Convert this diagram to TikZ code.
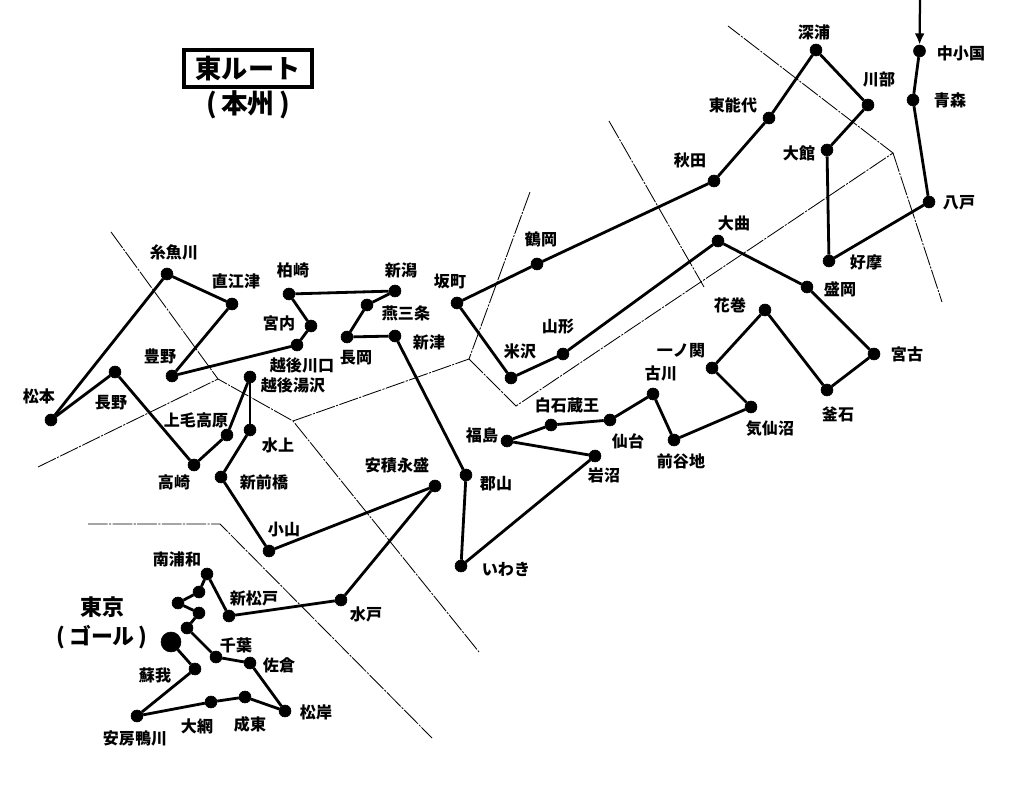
\documentclass[tikz,border=0pt]{standalone}
\usepackage{fontspec}
\setmainfont{Noto Sans CJK JP}
\usetikzlibrary{arrows.meta}
\tikzset{
  station/.style={draw,circle,fill=black,inner sep=0pt,minimum size=0.3cm},
  goal/.style={draw,circle,fill=black,inner sep=0pt,minimum size=0.5cm},
  place/.style={inner sep=0pt,font=\fontsize{11.4}{13}\selectfont\bfseries},
  bigplace/.style={inner sep=0pt,font=\fontsize{15.6}{18}\selectfont\bfseries},
  route/.style={line width=2pt},
  border/.style={line width=0.6pt,dash pattern=on 14pt off 1pt on 1.5pt off 1pt}
}
\begin{document}
\begin{tikzpicture}[x=0.025cm,y=-0.025cm]
\useasboundingbox (0,0) rectangle (1013,786);
% stations
\node[station] (chuo) at (919.5,51) {};
\node[station] (aomori) at (913,100) {};
\node[station] (hachinohe) at (929,202) {};
\node[station] (koma) at (829,261) {};
\node[station] (odate) at (827,150) {};
\node[station] (kawabe) at (868,105) {};
\node[station] (fukaura) at (816,50) {};
\node[station] (noshiro) at (769,118) {};
\node[station] (akita) at (714,181) {};
\node[station] (tsuruoka) at (537,264) {};
\node[station] (sakamachi) at (457,303) {};
\node[station] (yonezawa) at (511,378) {};
\node[station] (yamagata) at (563,354) {};
\node[station] (omagari) at (718,241) {};
\node[station] (morioka) at (807,287) {};
\node[station] (miyako) at (874,354) {};
\node[station] (kamaishi) at (827,390) {};
\node[station] (hanamaki) at (765,310) {};
\node[station] (ichinoseki) at (712,368) {};
\node[station] (kesennuma) at (751,407) {};
\node[station] (maeyachi) at (674,440) {};
\node[station] (furukawa) at (653,394) {};
\node[station] (sendai) at (610,420) {};
\node[station] (shiroishi) at (551,425) {};
\node[station] (fukushima) at (507,441) {};
\node[station] (iwanuma) at (595,456) {};
\node[station] (iwaki) at (461,566) {};
\node[station] (koriyama) at (466,475) {};
\node[station] (niitsu) at (395,336) {};
\node[station] (nagaoka) at (347,337) {};
\node[station] (tsubame) at (367,305) {};
\node[station] (niigata) at (395,291) {};
\node[station] (kashiwazaki) at (289,294) {};
\node[station] (miyauchi) at (311,326) {};
\node[station] (kawaguchi) at (297,345) {};
\node[station] (toyono) at (172,376) {};
\node[station] (naoetsu) at (232,304) {};
\node[station] (itoigawa) at (167,274) {};
\node[station] (matsumoto) at (51,420) {};
\node[station] (nagano) at (115,372) {};
\node[station] (takasaki) at (194,465) {};
\node[station] (jomo) at (227,435) {};
\node[station] (yuzawa) at (250,377) {};
\node[station] (minakami) at (250,430) {};
\node[station] (shinmaebashi) at (221,477) {};
\node[station] (oyama) at (269,551) {};
\node[station] (asaka) at (435,486) {};
\node[station] (mito) at (341,600) {};
\node[station] (shinmatsudo) at (229,616) {};
\node[station] (minamiurawa) at (207,574) {};
\node[station] (st1) at (199,592) {};
\node[station] (st2) at (178,603) {};
\node[station] (st3) at (199,613) {};
\node[station] (st4) at (187,628) {};
\node[station] (chiba) at (216,657) {};
\node[station] (sakura) at (250,663) {};
\node[station] (matsugishi) at (285,711) {};
\node[station] (naruto) at (245,697) {};
\node[station] (oami) at (211,702) {};
\node[station] (kamogawa) at (137,716) {};
\node[station] (soga) at (195,669) {};
\node[goal] (tokyo) at (171,642) {};
\coordinate (start) at (920,0);
% route
\draw[-{Latex[length=8pt,width=7pt]},line width=1.6pt] (start) -- (chuo);
\draw[route] (chuo) -- (aomori);
\draw[route] (aomori) -- (hachinohe);
\draw[route] (hachinohe) -- (koma);
\draw[route] (koma) -- (odate);
\draw[route] (odate) -- (kawabe);
\draw[route] (kawabe) -- (fukaura);
\draw[route] (fukaura) -- (noshiro);
\draw[route] (noshiro) -- (akita);
\draw[route] (akita) -- (tsuruoka);
\draw[route] (tsuruoka) -- (sakamachi);
\draw[route] (sakamachi) -- (yonezawa);
\draw[route] (yonezawa) -- (yamagata);
\draw[route] (yamagata) -- (omagari);
\draw[route] (omagari) -- (morioka);
\draw[route] (morioka) -- (miyako);
\draw[route] (miyako) -- (kamaishi);
\draw[route] (kamaishi) -- (hanamaki);
\draw[route] (hanamaki) -- (ichinoseki);
\draw[route] (ichinoseki) -- (kesennuma);
\draw[route] (kesennuma) -- (maeyachi);
\draw[route] (maeyachi) -- (furukawa);
\draw[route] (furukawa) -- (sendai);
\draw[route] (sendai) -- (shiroishi);
\draw[route] (shiroishi) -- (fukushima);
\draw[route] (fukushima) -- (iwanuma);
\draw[route] (iwanuma) -- (iwaki);
\draw[route] (iwaki) -- (koriyama);
\draw[route] (koriyama) -- (niitsu);
\draw[route] (niitsu) -- (nagaoka);
\draw[route] (nagaoka) -- (tsubame);
\draw[route] (tsubame) -- (niigata);
\draw[route] (niigata) -- (kashiwazaki);
\draw[route] (kashiwazaki) -- (miyauchi);
\draw[route] (miyauchi) -- (kawaguchi);
\draw[route] (kawaguchi) -- (toyono);
\draw[route] (toyono) -- (naoetsu);
\draw[route] (naoetsu) -- (itoigawa);
\draw[route] (itoigawa) -- (matsumoto);
\draw[route] (matsumoto) -- (nagano);
\draw[route] (nagano) -- (takasaki);
\draw[route] (takasaki) -- (jomo);
\draw[route] (jomo) -- (yuzawa);
\draw[route] (yuzawa) -- (minakami);
\draw[route] (minakami) -- (shinmaebashi);
\draw[route] (shinmaebashi) -- (oyama);
\draw[route] (oyama) -- (asaka);
\draw[route] (asaka) -- (mito);
\draw[route] (mito) -- (shinmatsudo);
\draw[route] (shinmatsudo) -- (minamiurawa);
\draw[route] (minamiurawa) -- (st1);
\draw[route] (st1) -- (st2);
\draw[route] (st2) -- (st3);
\draw[route] (st3) -- (st4);
\draw[route] (st4) -- (chiba);
\draw[route] (chiba) -- (sakura);
\draw[route] (sakura) -- (matsugishi);
\draw[route] (matsugishi) -- (naruto);
\draw[route] (naruto) -- (oami);
\draw[route] (oami) -- (kamogawa);
\draw[route] (kamogawa) -- (soga);
\draw[route] (soga) -- (tokyo);
% borders
\draw[border] (88,524) -- (220,524) -- (432,738);
\draw[border] (111,232) -- (218,379) -- (293,421) -- (479,652);
\draw[border] (38,467) -- (218,379);
\draw[border] (293,421) -- (469,359) -- (530,192);
\draw[border] (469,359) -- (516,406) -- (893,153) -- (728,26);
\draw[border] (893,153) -- (942,302);
\draw[border] (609,121) -- (704,287);
% names
\node[place] (tchuo) at (961,53) {中小国};
\node[place] (taomori) at (950,100) {青森};
\node[place] (thachinohe) at (959,203) {八戸};
\node[place] (tkoma) at (866,262) {好摩};
\node[place] (todate) at (799,153) {大館};
\node[place] (tkawabe) at (879,80) {川部};
\node[place] (tfukaura) at (814,32) {深浦};
\node[place] (tnoshiro) at (733,105) {東能代};
\node[place] (takita) at (690,160) {秋田};
\node[place] (ttsuruoka) at (541,239) {鶴岡};
\node[place] (tsakamachi) at (450,282) {坂町};
\node[place] (tyonezawa) at (520,351) {米沢};
\node[place] (tyamagata) at (558,327) {山形};
\node[place] (tomagari) at (734,223) {大曲};
\node[place] (tmorioka) at (840,289) {盛岡};
\node[place] (tmiyako) at (907,354) {宮古};
\node[place] (tkamaishi) at (838,414) {釜石};
\node[place] (thanamaki) at (730,305) {花巻};
\node[place] (tichinoseki) at (681,351) {一ノ関};
\node[place] (tkesennuma) at (770,429) {気仙沼};
\node[place] (tmaeyachi) at (681,461) {前谷地};
\node[place] (tfurukawa) at (661,373) {古川};
\node[place] (tsendai) at (628,441) {仙台};
\node[place] (tshiroishi) at (567,405) {白石蔵王};
\node[place] (tfukushima) at (482,435) {福島};
\node[place] (tiwanuma) at (604,475) {岩沼};
\node[place] (tiwaki) at (506,569) {いわき};
\node[place] (tkoriyama) at (496,484) {郡山};
\node[place] (tniitsu) at (429,342) {新津};
\node[place] (tnagaoka) at (356,358) {長岡};
\node[place] (ttsubame) at (406,313) {燕三条};
\node[place] (tniigata) at (401,270) {新潟};
\node[place] (tkashiwazaki) at (293,270) {柏崎};
\node[place] (tmiyauchi) at (279,323) {宮内};
\node[place] (tkawaguchi) at (302,365) {越後川口};
\node[place] (ttoyono) at (160,356) {豊野};
\node[place] (tnaoetsu) at (236,281) {直江津};
\node[place] (titoigawa) at (174,252) {糸魚川};
\node[place] (tmatsumoto) at (39,396) {松本};
\node[place] (tnagano) at (111,403) {長野};
\node[place] (ttakasaki) at (174,482) {高崎};
\node[place] (tjomo) at (196,420) {上毛高原};
\node[place] (tyuzawa) at (293,385) {越後湯沢};
\node[place] (tminakami) at (278,445) {水上};
\node[place] (tshinmaebashi) at (264,482) {新前橋};
\node[place] (toyama) at (284,530) {小山};
\node[place] (tasaka) at (397,465) {安積永盛};
\node[place] (tmito) at (366,614) {水戸};
\node[place] (tshinmatsudo) at (254,598) {新松戸};
\node[place] (tminamiurawa) at (177,559) {南浦和};
\node[place] (tchiba) at (236,645) {千葉};
\node[place] (tsakura) at (279,665) {佐倉};
\node[place] (tmatsugishi) at (316,712) {松岸};
\node[place] (tnaruto) at (250,724) {成東};
\node[place] (toami) at (197,726) {大網};
\node[place] (tkamogawa) at (135,738) {安房鴨川};
\node[place] (tsoga) at (155,675) {蘇我};
\node[bigplace] (ttokyo) at (102,607) {東京};
\node[bigplace] (tgoal) at (102,637) {(\,ゴール\,)};
% title
\node[draw,line width=3pt,minimum width=3.2cm,minimum height=0.92cm,inner sep=0pt,font=\fontsize{18.6}{21}\selectfont\bfseries] (title) at (248,68.5) {東ルート};
\node[inner sep=0pt,font=\fontsize{19}{21}\selectfont\bfseries] (subtitle) at (248,105) {(\,本州\,)};
\end{tikzpicture}
\end{document}
